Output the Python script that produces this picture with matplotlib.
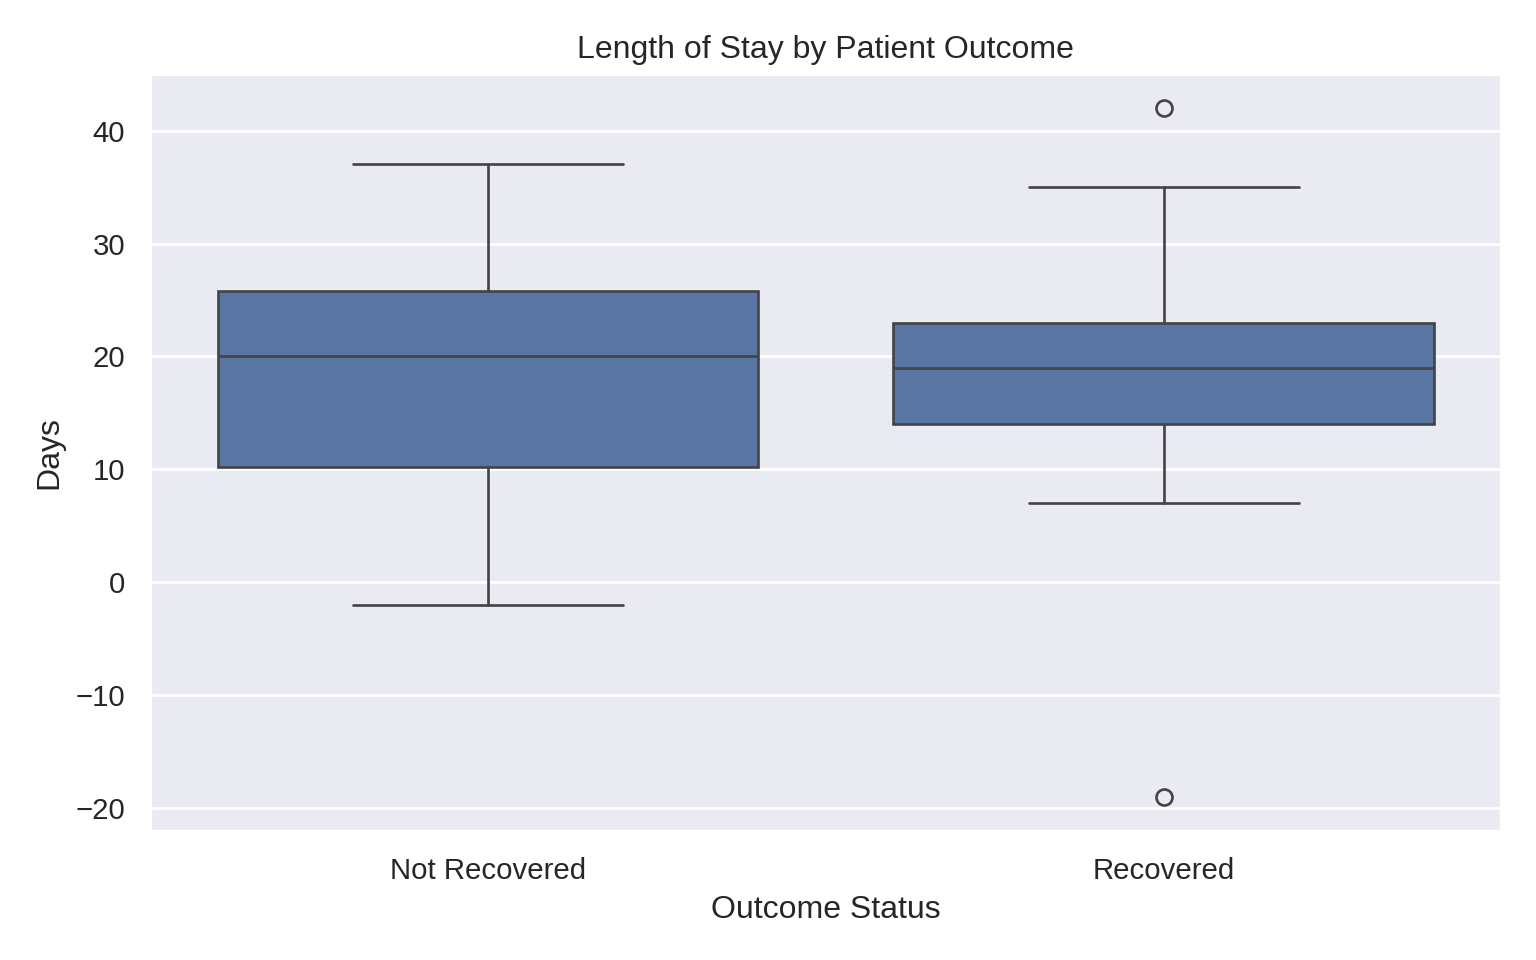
import matplotlib
matplotlib.use("Agg")
import matplotlib.pyplot as plt
import seaborn as sns

# Box summaries (days)
outcomes = ["Not Recovered", "Recovered"]
whisker_low = [-2.0, 7.0]
q1 = [10.2, 14.0]
median = [20.0, 19.0]
q3 = [25.8, 23.0]
whisker_high = [37.0, 35.0]
outliers = [[], [42.0, -19.0]]

sns.set_theme(style="darkgrid")
plt.rcParams["font.family"] = ["Liberation Sans", "DejaVu Sans"]

box_color = "#5975a4"
line_color = "#444444"

stats = []
for i, name in enumerate(outcomes):
    stats.append({
        "label": name,
        "whislo": whisker_low[i],
        "q1": q1[i],
        "med": median[i],
        "q3": q3[i],
        "whishi": whisker_high[i],
        "fliers": outliers[i],
    })

fig, ax = plt.subplots(figsize=(8, 5), dpi=192)

line_kw = dict(color=line_color, linewidth=1.0)
ax.bxp(
    stats,
    positions=range(len(outcomes)),
    widths=0.8,
    patch_artist=True,
    capwidths=0.4,
    boxprops=dict(facecolor=box_color, edgecolor=line_color, linewidth=1.0),
    medianprops=line_kw,
    whiskerprops=line_kw,
    capprops=line_kw,
    flierprops=dict(marker="o", markerfacecolor="none", markeredgecolor=line_color,
                    markersize=6, markeredgewidth=1.0),
)

ax.set_xlim(-0.5, 1.5)
ax.set_xticks(range(len(outcomes)))
ax.set_xticklabels(outcomes)
ax.xaxis.grid(False)
ax.set_ylim(-22.05, 45.05)
ax.set_title("Length of Stay by Patient Outcome")
ax.set_xlabel("Outcome Status")
ax.set_ylabel("Days")

plt.tight_layout()
plt.savefig("out.png", dpi=192)
